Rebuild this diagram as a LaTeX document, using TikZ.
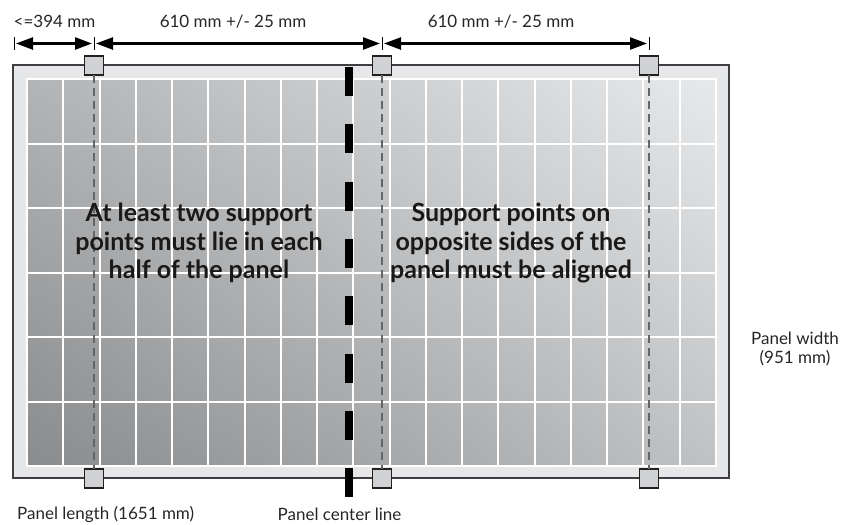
\documentclass[tikz,border=0pt]{standalone}
\usepackage{fontspec}
\setmainfont{Lato}
\usetikzlibrary{arrows.meta,shadings}
\definecolor{framefill}{HTML}{E6E7E8}
\definecolor{framedraw}{HTML}{3F3F41}
\definecolor{supfill}{HTML}{D1D2D4}
\definecolor{supdraw}{HTML}{231F20}
\definecolor{guide}{HTML}{646567}
\definecolor{cTL}{HTML}{B3B4B6}
\definecolor{cTR}{HTML}{E8E9EA}
\definecolor{cBL}{HTML}{8A8B8D}
\definecolor{cBR}{HTML}{C0C1C3}
\tikzset{
  support/.style={draw=supdraw,line width=1.5pt,fill=supfill,minimum size=19pt,inner sep=0pt,outer sep=0pt},
  guideline/.style={draw=guide,line width=2.6pt,dash pattern=on 8pt off 5pt},
  dimarrow/.style={line width=2.5pt,{Triangle[length=17pt,width=12pt]}-{Triangle[length=17pt,width=12pt]},shorten <=2pt,shorten >=2pt},
  dimtick/.style={line width=1pt},
  lbl/.style={font=\fontsize{17}{19}\selectfont,inner sep=0pt,text=black!85},
  bigtxt/.style={font=\fontsize{25}{28.5}\selectfont\bfseries,align=center,inner sep=0pt,text=black!90}
}
\begin{document}
\begin{tikzpicture}[x=1pt,y=-1pt]
\useasboundingbox (0,0) rectangle (852,525);
% frame
\draw[fill=framefill,draw=framedraw,line width=1.8pt] (13,65) rectangle (729,478);
% cells
\shade[upper left=cTL,upper right=cTR,lower left=cBL,lower right=cBR] (27,79) rectangle (716,466);
\foreach \i in {0,...,19}{
  \draw[white,line width=2pt] ({27+\i*36.263},79) -- ({27+\i*36.263},466);
}
\foreach \j in {0,...,6}{
  \draw[white,line width=2pt] (26,{79+\j*64.5}) -- (717,{79+\j*64.5});
}
% center line
\coordinate (ctop) at (349,67);
\coordinate (cbot) at (349,497);
\draw[black,line width=8pt,dash pattern=on 29pt off 28.3pt] (ctop) -- (cbot);
% supports
\node[support] (s1t) at (94,65.5) {};
\node[support] (s1b) at (94,478.5) {};
\node[support] (s2t) at (382,65.5) {};
\node[support] (s2b) at (382,478.5) {};
\node[support] (s3t) at (649,65.5) {};
\node[support] (s3b) at (649,478.5) {};
\draw[guideline] (s1t.south) -- (s1b.north);
\draw[guideline] (s2t.south) -- (s2b.north);
\draw[guideline] (s3t.south) -- (s3b.north);
% dimension ticks
\coordinate (d0) at (14,43.5);
\coordinate (d1) at (94,43.5);
\coordinate (d2) at (382,43.5);
\coordinate (d3) at (649,43.5);
\foreach \d in {d0,d1,d2,d3}{
  \draw[dimtick] ([yshift=-6.5pt]\d) -- ([yshift=6.5pt]\d);
}
\draw[dimarrow] (d0) -- (d1);
\draw[dimarrow] (d1) -- (d2);
\draw[dimarrow] (d2) -- (d3);
% labels
\node[lbl] (l1) at (54.5,21.5) {<=394 mm};
\node[lbl] (l2) at (233,21.5) {610 mm +/- 25 mm};
\node[lbl] (l3) at (501,21.5) {610 mm +/- 25 mm};
\node[lbl,align=center,font=\fontsize{17}{19}\selectfont] (lw) at (795,349) {Panel width\\(951 mm)};
\node[lbl,anchor=west] (ll) at (17,514) {Panel length (1651 mm)};
\node[lbl] (lc) at (339.5,514) {Panel center line};
\node[bigtxt] (t1) at (199,243) {At least two support\\points must lie in each\\half of the panel};
\node[bigtxt] (t2) at (511,243) {Support points on\\opposite sides of the\\panel must be aligned};
\end{tikzpicture}
\end{document}
